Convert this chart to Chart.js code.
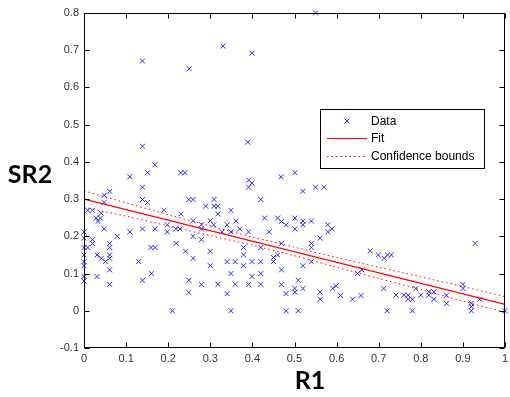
<!DOCTYPE html>
<html>
<head>
<meta charset="utf-8">
<script src="https://cdn.jsdelivr.net/npm/chart.js@4/dist/chart.umd.min.js"></script>
<style>
  html, body { margin: 0; padding: 0; background: #fff; }
  #wrap { width: 510px; height: 397px; }
</style>
</head>
<body>
<div id="wrap"><canvas class="chart"></canvas></div>
<script>
// scatter: R1 (x) vs SR2 (y)
const r1 = [
  0.139, 0.25, 0.33, 0.399, 0.55,
  0.139, 0.389, 0.168, 0.151, 0.109, 0.23, 0.24, 0.391, 0.468, 0.501,
  0.139, 0.061, 0.048, 0.139, 0.151, 0.048, 0.249, 0.259, 0.309, 0.289, 0.309, 0.318,
  0.009, 0.02, 0.19, 0.041, 0.23, 0.029, 0.039, 0.033, 0.318, 0.259, 0.30, 0.198,
  0.308, 0.279, 0.048, 0.109, 0.139, 0.169, 0.218, 0.228, 0.198, 0.259, 0.279, 0, 0.079, 0.328,
  0, 0.02, 0.02, 0, 0.009, 0.061, 0.061, 0.159, 0.169, 0.219, 0.279, 0.241, 0.30, 0.031,
  0, 0.041, 0.051, 0.061, 0.061, 0.13, 0.259, 0, 0, 0.061, 0.30, 0.16, 0, 0, 0.031,
  0.139, 0.249, 0.061, 0.249, 0.279, 0.318, 0.21,
  0.399, 0.391, 0.52, 0.55, 0.57, 0.42, 0.349, 0.361, 0.34, 0.429, 0.46, 0.469, 0.48,
  0.501, 0.501, 0.52, 0.52, 0.54, 0.579, 0.589, 0.579, 0.37, 0.391, 0.44, 0.349, 0.561,
  0.469, 0.54, 0.54, 0.379, 0.42, 0.379, 0.46, 0.45, 0.34, 0.359, 0.399, 0.42, 0.379,
  0.45, 0.52, 0.54, 0.469, 0.349, 0.399, 0.42, 0.359, 0.391, 0.42, 0.469, 0.509, 0.501,
  0.52, 0.501, 0.34, 0.48, 0.561, 0.561, 0.591, 0.599, 0.609, 0.638, 0.658, 0.65, 0.349,
  0.48, 0.509,
  0.68, 0.66, 0.699, 0.713, 0.721, 0.73, 0.712, 0.741, 0.76, 0.77, 0.78, 0.77, 0.788,
  0.8, 0.819, 0.831, 0.819, 0.831, 0.861, 0.861, 0.90, 0.90, 0.92, 0.92, 0.92, 0.94,
  0.929, 1.0, 0.72, 0.78
];
const sr2 = [
  0.671, 0.65, 0.711, 0.692, 0.80,
  0.442, 0.453, 0.392, 0.371, 0.36, 0.371, 0.371, 0.351, 0.36, 0.371,
  0.332, 0.321, 0.31, 0.299, 0.291, 0.291, 0.299, 0.299, 0.299, 0.281, 0.281, 0.281,
  0.27, 0.27, 0.27, 0.262, 0.26, 0.249, 0.249, 0.24, 0.26, 0.242, 0.242, 0.231,
  0.231, 0.231, 0.22, 0.212, 0.22, 0.22, 0.22, 0.22, 0.212, 0.20, 0.22, 0.212, 0.20, 0.212,
  0.195, 0.191, 0.181, 0.17, 0.17, 0.181, 0.17, 0.17, 0.17, 0.181, 0.191, 0.16, 0.16, 0.15,
  0.15, 0.141, 0.132, 0.15, 0.141, 0.132, 0.141, 0.132, 0.121, 0.11, 0.121, 0.10, 0.092, 0.08, 0.092,
  0.082, 0.082, 0.071, 0.049, 0.071, 0.071, 0.0,
  0.343, 0.332, 0.321, 0.332, 0.332, 0.299, 0.27, 0.241, 0.231, 0.249, 0.249, 0.24, 0.231,
  0.249, 0.22, 0.241, 0.231, 0.241, 0.231, 0.22, 0.212, 0.22, 0.212, 0.212, 0.212, 0.195,
  0.181, 0.181, 0.17, 0.17, 0.17, 0.15, 0.15, 0.143, 0.132, 0.132, 0.132, 0.132, 0.121,
  0.132, 0.121, 0.132, 0.11, 0.10, 0.092, 0.10, 0.071, 0.071, 0.071, 0.071, 0.082, 0.06,
  0.06, 0.05, 0.046, 0.046, 0.05, 0.031, 0.06, 0.067, 0.041, 0.031, 0.041, 0.10, 0.0,
  0.0, 0.0,
  0.161, 0.11, 0.15, 0.141, 0.15, 0.15, 0.06, 0.042, 0.042, 0.042, 0.031, 0.031, 0.06,
  0.042, 0.051, 0.051, 0.042, 0.031, 0.042, 0.02, 0.071, 0.06, 0.02, 0.011, 0.0, 0.031,
  0.181, 0.0, 0.0, 0.0
];

// fit line and confidence bounds
const fitX = [0, 1];
const fitY = [0.30, 0.017];
const boundX = [0, 0.1, 0.2, 0.3, 0.4, 0.5, 0.6, 0.7, 0.8, 0.9, 1];
const upperY = [0.322, 0.29, 0.258, 0.228, 0.198, 0.171, 0.143, 0.117, 0.091, 0.065, 0.038];
const lowerY = [0.278, 0.254, 0.228, 0.202, 0.176, 0.148, 0.117, 0.087, 0.057, 0.026, -0.004];

const xTicks = [0, 0.1, 0.2, 0.3, 0.4, 0.5, 0.6, 0.7, 0.8, 0.9, 1];
const xTickLabels = ['0', '0.1', '0.2', '0.3', '0.4', '0.5', '0.6', '0.7', '0.8', '0.9', '1'];
const yTicks = [-0.1, 0, 0.1, 0.2, 0.3, 0.4, 0.5, 0.6, 0.7, 0.8];
const yTickLabels = ['-0.1', '0', '0.1', '0.2', '0.3', '0.4', '0.5', '0.6', '0.7', '0.8'];

const BLUE = '#2a2aff';
const RED = '#ff0000';
const TICK_FONT = { family: 'Liberation Sans, Arial, sans-serif', size: 11 };

function pts(xs, ys) {
  return xs.map(function(x, i) { return { x: x, y: ys[i] }; });
}

// box round the axes with inward ticks, axis titles, and the legend
const matlabAxes = {
  id: 'matlabAxes',
  afterDraw: function(chart) {
    const ctx = chart.ctx;
    const a = chart.chartArea;
    const xs = chart.scales.x, ys = chart.scales.y;
    const L = Math.round(a.left) + 0.5, R = Math.round(a.right) - 0.5;
    const T = Math.round(a.top) + 0.5, B = Math.round(a.bottom) - 0.5;
    ctx.save();
    ctx.strokeStyle = '#000';
    ctx.lineWidth = 1;
    ctx.strokeRect(L, T, R - L, B - T);
    ctx.beginPath();
    xTicks.forEach(function(v) {
      const px = Math.round(xs.getPixelForValue(v)) + 0.5;
      ctx.moveTo(px, B); ctx.lineTo(px, B - 5);
      ctx.moveTo(px, T); ctx.lineTo(px, T + 5);
    });
    yTicks.forEach(function(v) {
      const py = Math.round(ys.getPixelForValue(v)) + 0.5;
      ctx.moveTo(L, py); ctx.lineTo(L + 5, py);
      ctx.moveTo(R, py); ctx.lineTo(R - 5, py);
    });
    ctx.stroke();

    // axis titles
    ctx.fillStyle = '#000';
    ctx.font = 'bold 25px Lato, "Open Sans", sans-serif';
    ctx.textAlign = 'center';
    ctx.textBaseline = 'middle';
    ctx.fillText('SR2', 30, 175);
    ctx.fillText('R1', 310, 381);

    // legend
    const lx = 320.5, ly = 109.5, lw = 164, lh = 59;
    ctx.fillStyle = '#fff';
    ctx.fillRect(lx, ly, lw, lh);
    ctx.strokeRect(lx, ly, lw, lh);
    const ds = chart.data.datasets;
    const rows = [
      { d: ds[0], y: 121 },
      { d: ds[1], y: 138.5 },
      { d: ds[2], y: 156.5 }
    ];
    rows.forEach(function(r, i) {
      ctx.strokeStyle = r.d.borderColor;
      ctx.lineWidth = 1;
      if (i === 0) {
        Chart.helpers.drawPoint(ctx, { pointStyle: 'crossRot', radius: 3.5, borderWidth: 1 }, 347, r.y);
      } else {
        ctx.setLineDash(r.d.borderDash || []);
        ctx.beginPath();
        ctx.moveTo(327, r.y); ctx.lineTo(367, r.y);
        ctx.stroke();
        ctx.setLineDash([]);
      }
      ctx.fillStyle = '#000';
      ctx.font = '12px "Liberation Sans", Arial, sans-serif';
      ctx.textAlign = 'left';
      ctx.fillText(r.d.label, 371, r.y + 0.5);
    });
    ctx.restore();
  }
};

function noPad(s) {
  s.paddingLeft = 0;
  s.paddingRight = 0;
  s.paddingTop = 0;
  s.paddingBottom = 0;
}

const ctx = document.querySelector('.chart');

new Chart(ctx, {
  type: 'scatter',
  data: {
    datasets: [
      {
        label: 'Data',
        data: pts(r1, sr2),
        pointStyle: 'crossRot',
        radius: 3.5,
        borderWidth: 1,
        borderColor: BLUE,
        backgroundColor: BLUE,
        order: 3,
        clip: false
      },
      {
        label: 'Fit',
        data: pts(fitX, fitY),
        showLine: true,
        pointRadius: 0,
        borderColor: RED,
        borderWidth: 1.2,
        order: 1
      },
      {
        label: 'Confidence bounds',
        data: pts(boundX, upperY),
        showLine: true,
        pointRadius: 0,
        borderColor: RED,
        borderWidth: 1,
        borderDash: [1.5, 3],
        tension: 0.3,
        order: 2
      },
      {
        label: 'Lower bound',
        data: pts(boundX, lowerY),
        showLine: true,
        pointRadius: 0,
        borderColor: RED,
        borderWidth: 1,
        borderDash: [1.5, 3],
        tension: 0.3,
        order: 2
      }
    ]
  },
  options: {
    responsive: true,
    maintainAspectRatio: false,
    animation: false,
    events: [],
    layout: { padding: { top: 13, right: 2, left: 0, bottom: 0 } },
    plugins: {
      legend: { display: false },
      tooltip: { enabled: false }
    },
    scales: {
      x: {
        type: 'linear',
        min: 0,
        max: 1,
        grid: { display: false, drawTicks: false },
        border: { display: false },
        afterBuildTicks: function(s) { s.ticks = xTicks.map(function(v) { return { value: v }; }); },
        afterFit: function(s) { s.height = 49; noPad(s); },
        ticks: {
          padding: 4,
          maxRotation: 0,
          autoSkip: false,
          color: '#333',
          font: TICK_FONT,
          callback: function(v, i) { return xTickLabels[i]; }
        }
      },
      y: {
        type: 'linear',
        min: -0.1,
        max: 0.8,
        grid: { display: false, drawTicks: false },
        border: { display: false },
        afterBuildTicks: function(s) { s.ticks = yTicks.map(function(v) { return { value: v }; }); },
        afterFit: function(s) { s.width = 84; noPad(s); },
        ticks: {
          padding: 5,
          autoSkip: false,
          color: '#333',
          font: TICK_FONT,
          callback: function(v, i) { return yTickLabels[i]; }
        }
      }
    }
  },
  plugins: [matlabAxes]
});
</script>
</body>
</html>
